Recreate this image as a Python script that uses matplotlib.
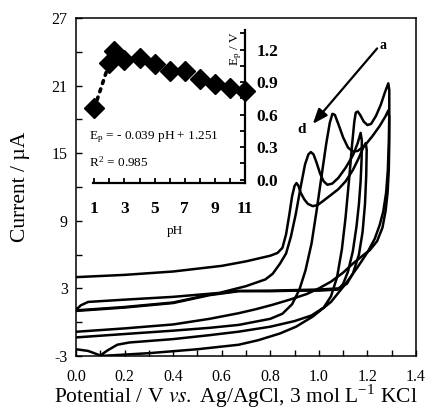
import matplotlib
matplotlib.use("Agg")
import matplotlib.pyplot as plt
from matplotlib.ticker import MultipleLocator, FixedLocator

plt.rcParams['font.family'] = ['Liberation Serif', 'DejaVu Serif']
plt.rcParams['mathtext.fontset'] = 'stix'

# ---------------- data ----------------
# cyclic voltammograms a-d : potential (V) and current (uA), forward then reverse
a_v = [0.00, 0.05, 0.10, 0.13, 0.17, 0.22, 0.40, 0.55, 0.67, 0.80, 0.90, 0.97, 1.02, 1.05,
       1.075, 1.095, 1.11, 1.125, 1.137, 1.146, 1.152, 1.16, 1.17, 1.185, 1.20, 1.215, 1.235,
       1.255, 1.272, 1.286,
       1.29, 1.29, 1.288, 1.284, 1.277, 1.265, 1.25, 1.23, 1.20, 1.16, 1.11, 1.05, 0.975,
       0.906, 0.84, 0.75, 0.67, 0.50, 0.30, 0.10]
a_i = [-2.4, -2.55, -2.95, -2.5, -2.0, -1.8, -1.5, -1.15, -0.84, -0.4, 0.1, 0.6, 1.3, 2.3,
       4.0, 6.5, 9.3, 12.8, 15.8, 17.8, 18.6, 18.7, 18.4, 17.8, 17.5, 17.6, 18.3,
       19.3, 20.4, 21.2,
       20.6, 18.5, 16.0, 13.5, 11.5, 9.8, 8.6, 7.4, 6.2, 4.9, 3.4, 1.8, 0.5,
       -0.4, -1.0, -1.6, -2.0, -2.4, -2.75, -3.0]

b_v = [0.00, 0.20, 0.40, 0.55, 0.67, 0.80, 0.85, 0.89, 0.92, 0.945, 0.97, 0.99, 1.01, 1.03,
       1.045, 1.056, 1.066, 1.08, 1.10, 1.12, 1.14, 1.16, 1.19, 1.22, 1.25, 1.275, 1.286,
       1.29, 1.29, 1.288, 1.283, 1.275, 1.262, 1.24, 1.21, 1.18, 1.14, 1.10, 1.05, 1.00,
       0.95, 0.88, 0.81, 0.74, 0.67, 0.55, 0.40, 0.20, 0.00]
b_i = [-1.35, -1.05, -0.75, -0.5, -0.24, 0.3, 0.75, 1.6, 2.9, 4.6, 7.0, 9.8, 12.8, 15.8,
       17.7, 18.5, 18.4, 17.6, 16.4, 15.5, 15.15, 15.2, 15.7, 16.5, 17.4, 18.3, 18.8,
       18.2, 16.0, 13.5, 11.5, 9.9, 8.4, 7.2, 6.4, 5.9, 5.2, 4.4, 3.6, 3.0,
       2.5, 2.0, 1.55, 1.15, 0.8, 0.3, -0.2, -0.55, -0.85]

c_v = [0.00, 0.02, 0.05, 0.20, 0.40, 0.59, 0.70, 0.78, 0.81, 0.84, 0.865, 0.885, 0.905,
       0.925, 0.943, 0.957, 0.967, 0.978, 0.99, 1.005, 1.02, 1.035, 1.055, 1.08, 1.11,
       1.14, 1.16, 1.172,
       1.177, 1.176, 1.172, 1.165, 1.155, 1.14, 1.12, 1.10, 1.08, 1.00, 0.90, 0.80, 0.67,
       0.55, 0.40, 0.20, 0.00]
c_i = [1.1, 1.5, 1.8, 2.0, 2.25, 2.6, 3.2, 3.8, 4.3, 5.2, 6.1, 7.6, 9.6,
       12.0, 14.0, 14.9, 15.1, 14.9, 14.2, 13.2, 12.5, 12.2, 12.3, 12.8, 13.7,
       14.8, 15.9, 16.8,
       16.1, 14.5, 12.5, 10.5, 8.5, 6.3, 4.5, 3.4, 2.9, 2.8, 2.8, 2.75, 2.75,
       2.4, 1.7, 1.3, 1.0]

d_v = [0.00, 0.20, 0.40, 0.60, 0.70, 0.80, 0.83, 0.85, 0.865, 0.878, 0.89, 0.90, 0.908,
       0.916, 0.925, 0.94, 0.955, 0.975, 0.995, 1.02, 1.05, 1.08, 1.11, 1.14, 1.165,
       1.183, 1.193,
       1.197, 1.195, 1.19, 1.18, 1.165, 1.14, 1.115, 1.08, 1.00, 0.90, 0.80, 0.67,
       0.55, 0.40, 0.20, 0.00]
d_i = [4.0, 4.2, 4.5, 5.0, 5.4, 5.9, 6.15, 6.6, 7.8, 9.5, 11.2, 12.1, 12.35,
       12.1, 11.5, 10.9, 10.5, 10.3, 10.4, 10.8, 11.3, 11.8, 12.5, 13.5, 14.6,
       15.5, 15.9,
       15.3, 13.0, 10.5, 8.0, 6.0, 4.3, 3.4, 3.0, 2.9, 2.85, 2.8, 2.78,
       2.45, 1.75, 1.35, 1.05]

x_ticks = [0.0, 0.2, 0.4, 0.6, 0.8, 1.0, 1.2, 1.4]
x_ticklabels = ['0.0', '0.2', '0.4', '0.6', '0.8', '1.0', '1.2', '1.4']
y_ticks = [-3, 3, 9, 15, 21, 27]
y_ticklabels = ['-3', '3', '9', '15', '21', '27']

# inset: peak potential vs pH
ph = [1, 2, 2.3, 3, 4, 5, 6, 7, 8, 9, 10, 11]
ep = [0.66, 1.08, 1.19, 1.10, 1.12, 1.07, 1.00, 1.00, 0.93, 0.88, 0.85, 0.82]
ph_ticks = [1, 3, 5, 7, 9, 11]
ph_ticklabels = ['1', '3', '5', '7', '9', '11']
ep_ticks = [0.0, 0.3, 0.6, 0.9, 1.2]
ep_ticklabels = ['0.0', '0.3', '0.6', '0.9', '1.2']

# ---------------- figure ----------------
W, H = 428, 411
fig = plt.figure(figsize=(W / 100, H / 100), dpi=100)
ax = fig.add_axes([76 / W, 1 - 356 / H, (416 - 76) / W, (356 - 18) / H])

for v, i in [(a_v, a_i), (b_v, b_i), (c_v, c_i), (d_v, d_i)]:
    ax.plot(v, i, color='black', lw=1.8, solid_joinstyle='round', solid_capstyle='round')

ax.set_xlim(0.0, 1.4)
ax.set_ylim(-3, 27)
ax.set_xticks(x_ticks)
ax.set_xticklabels(x_ticklabels)
ax.set_yticks(y_ticks)
ax.set_yticklabels(y_ticklabels)
ax.xaxis.set_minor_locator(MultipleLocator(0.1))
ax.yaxis.set_minor_locator(MultipleLocator(3))
ax.tick_params(axis='both', which='both', direction='in', length=4, width=1.0,
               labelsize=11.5, top=False, right=False)
ax.tick_params(axis='x', pad=9)
ax.tick_params(axis='y', pad=6)
for s in ax.spines.values():
    s.set_linewidth(1.1)

ax.set_ylabel('Current / µA', fontsize=15.5)
ax.yaxis.set_label_coords(-0.135, 0.5)
ax.set_xlabel(r'Potential / V $\mathit{vs.}$ Ag/AgCl, 3 mol L$^{\mathregular{-1}}$ KCl', fontsize=15.5)
ax.xaxis.set_label_coords(0.47, -0.08)

# arrow a -> d
ax.annotate('', xy=(0.975, 17.6), xytext=(1.24, 24.3),
            arrowprops=dict(arrowstyle='-|>,head_length=0.9,head_width=0.35',
                            color='black', lw=1.6, shrinkA=0, shrinkB=0))
ax.text(1.265, 24.6, 'a', fontsize=10, fontweight='bold', ha='center', va='center')
ax.text(0.928, 17.1, 'd', fontsize=11, fontweight='bold', ha='center', va='center')

# ---------------- inset ----------------
ins = fig.add_axes([93 / W, 1 - 183 / H, (245 - 93) / W, (183 - 30) / H])
ins.patch.set_alpha(0)
ins.plot(ph[:2], ep[:2], ls=(0, (0.8, 1.6)), color='black', lw=2.6, dash_capstyle='round')
ins.plot(ph, ep, ls='none', marker='D', ms=10, color='black', clip_on=False)
ins.set_xlim(0.91, 11)
ins.set_ylim(-0.03, 1.38)
for k in ['left', 'top']:
    ins.spines[k].set_visible(False)
for k in ['right', 'bottom']:
    ins.spines[k].set_linewidth(1.6)
ins.yaxis.tick_right()
ins.set_xticks(ph_ticks)
ins.set_xticklabels(ph_ticklabels)
ins.set_yticks(ep_ticks)
ins.set_yticklabels(ep_ticklabels)
ins.xaxis.set_minor_locator(FixedLocator([2, 4, 6, 8, 10]))
ins.yaxis.set_minor_locator(FixedLocator([0.15, 0.45, 0.75, 1.05, 1.35]))
ins.tick_params(axis='both', which='both', direction='in', length=3.5, width=1.3,
                labelsize=12.5)
ins.tick_params(axis='x', pad=13)
ins.tick_params(axis='y', pad=8)
for lab in ins.get_xticklabels() + ins.get_yticklabels():
    lab.set_fontweight('bold')

fig.text(175 / W, 1 - 231 / H, 'pH', fontsize=9.5, ha='center', va='center')
fig.text(236 / W, 1 - 48 / H, r'E$_\mathregular{p}$ / V', fontsize=9.5, rotation=90,
         ha='center', va='center')
fig.text(89 / W, 1 - 137 / H, r'E$_\mathregular{p}$ = - 0.039 pH + 1.251', fontsize=9.5,
         ha='left', va='center')
fig.text(89 / W, 1 - 163 / H, r'R$^\mathregular{2}$ = 0.985', fontsize=9.5,
         ha='left', va='center')

fig.savefig('out.png', dpi=100)
